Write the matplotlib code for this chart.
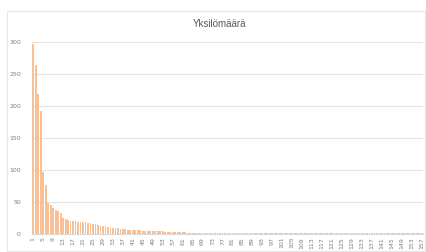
import matplotlib
matplotlib.use("Agg")
import matplotlib.pyplot as plt
from matplotlib.patches import Rectangle

title = "Yksilömäärä"
head_values = [297, 263, 218, 192, 96, 77, 48, 46, 40, 37,
               36, 33, 25, 24, 22, 21, 20, 20, 19, 19,
               19, 18, 17, 17, 16, 15, 14, 13, 13, 12,
               11, 10, 10, 9, 9, 8, 8, 8, 7, 7,
               7, 6, 6, 6, 5, 5, 5, 5, 4, 4,
               4, 4, 4, 3, 3, 3, 3, 3, 3, 3,
               3, 3, 2, 2, 2, 2, 2, 2, 2, 2,
               2, 2, 2, 2, 2, 2, 2, 2, 2, 2,
               2, 2, 2, 2, 2, 2, 2, 2, 2, 2,
               2, 2, 2, 2, 2, 2, 2, 2]
tail_values = [1] * 59
values = head_values + tail_values
categories = list(range(1, len(values) + 1))
tick_labels = [str(c) for c in categories[::4]]

fig = plt.figure(figsize=(4.26, 2.52), dpi=100)
fig.patch.set_facecolor("white")
fig.patches.append(Rectangle((7/426, 1/252), 418/426, 240/252, transform=fig.transFigure,
                             fill=False, edgecolor="#E6E6E6", linewidth=0.8))

ax = fig.add_axes([32/426, 18/252, 391/426, (234-41.7)/252])
ax.bar(categories, values, width=0.72, color="#F7C096", edgecolor="none", zorder=2)
ax.set_xlim(0.5, len(values) + 0.5)
ax.set_ylim(0, 300)
ax.set_yticks(range(0, 301, 50))
ax.set_xticks(categories[::4])
ax.set_xticklabels(tick_labels, rotation=90, fontsize=4.5, color="#7F7F7F")
ax.tick_params(axis="y", labelsize=4.5, labelcolor="#7F7F7F", length=0, pad=8)
ax.tick_params(axis="x", length=0, pad=2)
ax.grid(axis="y", color="#E3E3E3", linewidth=0.8, zorder=0)
for s in ["top", "right", "left"]:
    ax.spines[s].set_visible(False)
ax.spines["bottom"].set_color("#D9D9D9")
ax.spines["bottom"].set_linewidth(0.8)
ax.set_axisbelow(True)

fig.text(220/426, 1 - 24/252, title, ha="center", va="center", fontsize=7,
         color="#595959", family=["Liberation Sans", "DejaVu Sans"])

fig.savefig("out.png", dpi=100)
